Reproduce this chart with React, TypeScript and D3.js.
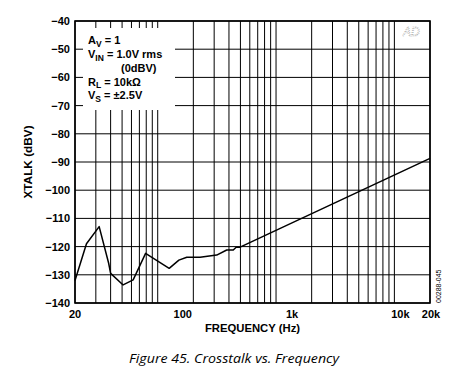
import React from "react";
import * as d3 from "d3";

// ---- data ----
const freqHz = [20, 25, 32, 38.5, 40, 51, 62, 79, 125, 151, 176, 228, 315, 383, 435, 460, 497, 20000];
const xtalkDbv = [-132, -119, -112.9, -125.9, -129.5, -133.6, -131.8, -122.4, -127.7, -124.8, -123.8, -123.8, -123, -121.2, -121.2, -120.2, -120.2, -88.7];

const yTicks = [-40, -50, -60, -70, -80, -90, -100, -110, -120, -130, -140];
const xTickValues = [20, 100, 1000, 10000, 20000];
const xTickLabels = ["20", "100", "1k", "10k", "20k"];
const xGridValues = [
  20, 30, 40, 50, 60, 70, 80, 90, 100,
  200, 300, 400, 500, 600, 700, 800, 900, 1000,
  2000, 3000, 4000, 5000, 6000, 7000, 8000, 9000, 10000, 20000,
];

// ---- layout / style ----
const W = 469;
const H = 375;
const PL = 75, PR = 430, PT = 21, PB = 303;
const xLabelDx = [0, 25, 16, 6, 1];
const FONT = "'Liberation Sans', Arial, sans-serif";

export default function App() {
  const x = d3.scaleLog().domain([20, 20000]).range([PL, PR]);
  const y = d3.scaleLinear().domain([-140, -40]).range([PB, PT]);
  const pts = freqHz.map((f, i) => [f, xtalkDbv[i]] as [number, number]);
  const line = d3.line<[number, number]>().x((d) => x(d[0])).y((d) => y(d[1]))(pts) || "";

  return (
    <svg width={W} height={H} style={{ position: "absolute", left: 0, top: 0, background: "#fff" }}>
      <rect x={0} y={0} width={W} height={H} fill="#fff" />
      {/* grid */}
      {xGridValues.map((v) => (
        <line key={"gx" + v} x1={x(v)} x2={x(v)} y1={PT} y2={PB} stroke="#000" strokeWidth={1} />
      ))}
      {yTicks.map((v) => (
        <line key={"gy" + v} x1={PL} x2={PR} y1={y(v)} y2={y(v)} stroke="#000" strokeWidth={1} />
      ))}
      {/* legend box */}
      <rect x={83} y={28} width={92} height={82} fill="#fff" />
      <g fontFamily={FONT} fontWeight="bold" fontSize={11} fill="#000">
        <text x={88} y={44}>A<tspan fontSize={8.5} dy={2.5}>V</tspan><tspan dy={-2.5}> = 1</tspan></text>
        <text x={88} y={58}>V<tspan fontSize={8.5} dy={2.5}>IN</tspan><tspan dy={-2.5}> = 1.0V rms</tspan></text>
        <text x={121} y={72}>(0dBV)</text>
        <text x={88} y={85.5}>R<tspan fontSize={8.5} dy={2.5}>L</tspan><tspan dy={-2.5}> = 10kΩ</tspan></text>
        <text x={88} y={99}>V<tspan fontSize={8.5} dy={2.5}>S</tspan><tspan dy={-2.5}> = ±2.5V</tspan></text>
      </g>
      {/* frame */}
      <rect x={PL} y={PT} width={PR - PL} height={PB - PT} fill="none" stroke="#000" strokeWidth={1.6} />
      {/* curve */}
      <path d={line} fill="none" stroke="#000" strokeWidth={1.5} strokeLinejoin="round" />
      {/* logo */}
      <text x={403} y={36} fontFamily={FONT} fontSize={12} fontStyle="italic" fill="none" stroke="#999" strokeWidth={0.6} strokeDasharray="1 1">AD</text>
      {/* tick labels */}
      <g fontFamily={FONT} fontWeight="bold" fontSize={11} fill="#000">
        {yTicks.map((v) => (
          <text key={"ty" + v} x={70} y={y(v) + 4} textAnchor="end">{"\u2212" + Math.abs(v)}</text>
        ))}
        {xTickValues.map((v, i) => (
          <text key={"tx" + v} x={x(v) + xLabelDx[i]} y={318} textAnchor="middle">{xTickLabels[i]}</text>
        ))}
      </g>
      {/* axis titles */}
      <text x={(PL + PR) / 2} y={332} textAnchor="middle" fontFamily={FONT} fontWeight="bold" fontSize={11.3}>FREQUENCY (Hz)</text>
      <text transform={`translate(32,${(PT + PB) / 2}) rotate(-90)`} textAnchor="middle" fontFamily={FONT} fontWeight="bold" fontSize={11.8}>XTALK (dBV)</text>
      <text transform={`translate(441,303) rotate(-90)`} fontFamily={FONT} fontSize={7} fill="#000">00288-045</text>
      {/* caption */}
      <text x={129} y={363} fontFamily="'Open Sans', sans-serif" fontStyle="italic" fontSize={13} textLength={210} lengthAdjust="spacingAndGlyphs">Figure 45. Crosstalk vs. Frequency</text>
    </svg>
  );
}
